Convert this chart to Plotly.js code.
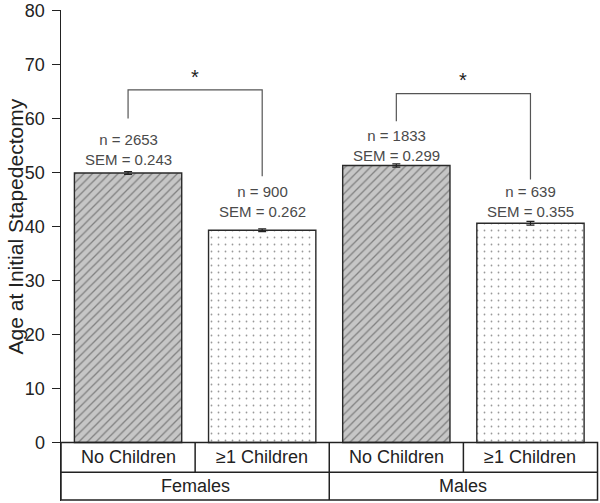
<!DOCTYPE html>
<html>
<head>
<meta charset="utf-8">
<script src="https://cdn.plot.ly/plotly-3.0.1.min.js"></script>
<style>
  html, body { margin: 0; padding: 0; background: #fff; }
  #chart { width: 600px; height: 503px; }
</style>
</head>
<body>
<div id="chart"></div>
<script>
// ---- data ----
const sexGroups = ['Females', 'Males'];
const childGroups = ['No Children', '≥1 Children', 'No Children', '≥1 Children'];
const meanAge = [49.9, 39.3, 51.3, 40.6];
const semVals = [0.243, 0.262, 0.299, 0.355];
const nVals = [2653, 900, 1833, 639];
const yTicks = [0, 10, 20, 30, 40, 50, 60, 70, 80];
const yTitle = 'Age at Initial Stapedectomy';

// ---- styling ----
const FONT = 'Liberation Sans, Arial, Helvetica, sans-serif';
const INK = '#222';
const xPos = childGroups.map((_, i) => i);
const pick = (arr, want) => arr.filter((_, i) => (childGroups[i] === 'No Children') === want);

const barsNone = {
  type: 'bar',
  x: pick(xPos, true),
  y: pick(meanAge, true),
  width: 0.8,
  marker: {
    color: '#c6c6c6',
    line: { color: '#2a2a2a', width: 1.4 },
    pattern: { shape: '/', fgcolor: '#3a3a3a', size: 6, solidity: 0.22, fillmode: 'overlay' }
  },
  error_y: { type: 'data', array: pick(semVals, true), visible: true, color: '#222', thickness: 1.2, width: 4 },
  hoverinfo: 'skip',
  showlegend: false
};
const barsKids = {
  type: 'bar',
  x: pick(xPos, false),
  y: pick(meanAge, false),
  width: 0.8,
  marker: {
    color: '#ffffff',
    line: { color: '#2a2a2a', width: 1.4 },
    pattern: { shape: '.', fgcolor: '#333', size: 7, solidity: 0.05, fillmode: 'overlay' }
  },
  error_y: { type: 'data', array: pick(semVals, false), visible: true, color: '#222', thickness: 1.2, width: 4 },
  hoverinfo: 'skip',
  showlegend: false
};

// table geometry (data units)
const TOP = 0, MID = -5.5, BOT = -10.65, XL = -0.5, XR = 3.5;
const lineStyle = { color: INK, width: 1.5 };
const shapes = [
  { type: 'rect', xref: 'x', yref: 'y', x0: XL, x1: XR, y0: BOT, y1: TOP, line: lineStyle, layer: 'above' },
  { type: 'line', xref: 'x', yref: 'y', x0: XL, x1: XR, y0: MID, y1: MID, line: lineStyle, layer: 'above' },
  { type: 'line', xref: 'x', yref: 'y', x0: 0.5, x1: 0.5, y0: MID, y1: TOP, line: lineStyle, layer: 'above' },
  { type: 'line', xref: 'x', yref: 'y', x0: 1.5, x1: 1.5, y0: BOT, y1: TOP, line: lineStyle, layer: 'above' },
  { type: 'line', xref: 'x', yref: 'y', x0: 2.5, x1: 2.5, y0: MID, y1: TOP, line: lineStyle, layer: 'above' },
  // significance brackets
  { type: 'path', xref: 'x', yref: 'y', path: 'M 0,60.0 L 0,65.3 L 1,65.3 L 1,49.3', line: { color: '#555', width: 1.2 } },
  { type: 'path', xref: 'x', yref: 'y', path: 'M 2,59.5 L 2,64.6 L 3,64.6 L 3,48.7', line: { color: '#555', width: 1.2 } }
];

const annotations = [];
// n / SEM labels
const labelY = [54.2, 44.6, 55.0, 44.7];
xPos.forEach((x, i) => {
  annotations.push({
    xref: 'x', yref: 'y', x: x, y: labelY[i], xanchor: 'center', yanchor: 'middle',
    text: 'n = ' + nVals[i] + '<br>SEM = ' + semVals[i].toFixed(3),
    showarrow: false, font: { family: FONT, size: 15, color: '#4a4a4a' }
  });
  // sub-category labels
  annotations.push({
    xref: 'x', yref: 'y', x: x, y: (TOP + MID) / 2, xanchor: 'center', yanchor: 'middle',
    text: childGroups[i], showarrow: false, font: { family: FONT, size: 18, color: INK }
  });
});
sexGroups.forEach((g, j) => {
  annotations.push({
    xref: 'x', yref: 'y', x: 2 * j + 0.5, y: (MID + BOT) / 2, xanchor: 'center', yanchor: 'middle',
    text: g, showarrow: false, font: { family: FONT, size: 18, color: INK }
  });
});
// asterisks
annotations.push({ xref: 'x', yref: 'y', x: 0.5, y: 67.6, text: '*', showarrow: false, font: { family: FONT, size: 20, color: INK } });
annotations.push({ xref: 'x', yref: 'y', x: 2.5, y: 67.2, text: '*', showarrow: false, font: { family: FONT, size: 20, color: INK } });
// y title
annotations.push({
  xref: 'paper', yref: 'y', x: 0, y: 40, xshift: -46, textangle: -90,
  xanchor: 'center', yanchor: 'middle',
  text: yTitle, showarrow: false, font: { family: FONT, size: 21, color: INK }
});

const layout = {
  width: 600, height: 503,
  margin: { l: 61, r: 1, t: 10, b: 2 },
  paper_bgcolor: '#fff', plot_bgcolor: '#fff',
  font: { family: FONT, color: INK },
  barmode: 'overlay',
  xaxis: { range: [-0.5, 3.511], visible: false, fixedrange: true },
  yaxis: {
    range: [-10.83, 80.09],
    tickvals: yTicks,
    ticktext: yTicks.map(String),
    ticks: 'outside', ticklen: 8, tickwidth: 1.5, tickcolor: INK,
    ticklabelstandoff: 3,
    showline: true, linecolor: INK, linewidth: 1.5,
    showgrid: false, zeroline: false,
    tickfont: { family: FONT, size: 18, color: INK },
    fixedrange: true
  },
  shapes: shapes,
  annotations: annotations,
  showlegend: false
};

Plotly.newPlot('chart', [barsNone, barsKids], layout, { displayModeBar: false, staticPlot: true });
</script>
</body>
</html>
